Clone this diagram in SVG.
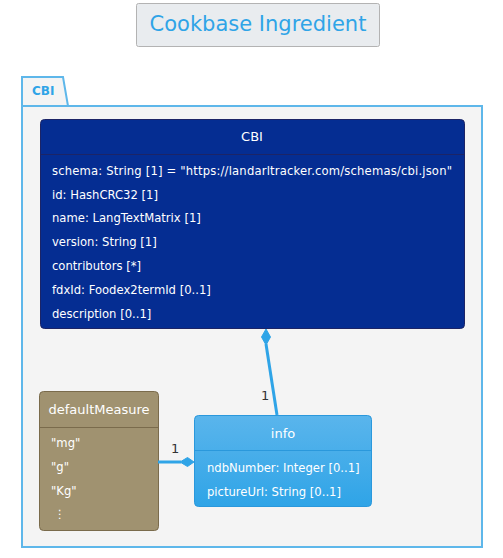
<svg xmlns="http://www.w3.org/2000/svg" width="503" height="558" viewBox="0 0 503 558">
<defs>
<linearGradient id="infoGrad" x1="0" y1="0" x2="0" y2="1">
<stop offset="0" stop-color="#5ab5ec"/>
<stop offset="1" stop-color="#2fa4e7"/>
</linearGradient>
<style>
text{font-family:"DejaVu Sans","Liberation Sans",sans-serif;}
.attr{font-size:11.6px;fill:#ffffff;}
.hdr{font-size:13px;fill:#ffffff;text-anchor:middle;}
.conn{stroke:#2fa4e7;stroke-width:3;fill:none;}
.dia{fill:#2fa4e7;stroke:#2fa4e7;stroke-width:1;}
.mult{font-size:13px;fill:#333333;}
</style>
</defs>
<rect width="503" height="558" fill="#ffffff"/>
<g id="title">
<rect x="136.5" y="3.5" width="243" height="43" rx="2" fill="#e9ecef" stroke="#b3b3b3"/>
<text x="258" y="31" font-size="21" fill="#2fa4e7" text-anchor="middle">Cookbase Ingredient</text>
</g>
<g id="package-CBI">
<path d="M22,106 L22,77 L63,77 L68,106" fill="#f4f4f4" stroke="#5eb7ea" stroke-width="2"/>
<rect x="22" y="106" width="460" height="441" fill="#f4f4f4" stroke="#5eb7ea" stroke-width="2"/>
<text x="32" y="95" font-size="12" font-weight="bold" fill="#2fa4e7">CBI</text>
</g>
<g id="class-CBI">
<rect x="40.5" y="119.5" width="424" height="209" rx="4" fill="#052d92" stroke="#1c2466"/>
<line x1="40.5" y1="154.5" x2="464.5" y2="154.5" stroke="#1c2466"/>
<text class="hdr" x="252" y="141">CBI</text>
<text class="attr" x="52" y="175" textLength="400" lengthAdjust="spacing">schema: String [1] = "https://landarltracker.com/schemas/cbi.json"</text>
<text class="attr" x="52" y="199">id: HashCRC32 [1]</text>
<text class="attr" x="52" y="222">name: LangTextMatrix [1]</text>
<text class="attr" x="52" y="246">version: String [1]</text>
<text class="attr" x="52" y="270">contributors [*]</text>
<text class="attr" x="52" y="294">fdxId: Foodex2termId [0..1]</text>
<text class="attr" x="52" y="318">description [0..1]</text>
</g>
<g id="class-defaultMeasure">
<rect x="39.5" y="391.5" width="119" height="139" rx="4" fill="#a09270" stroke="#7a6b4c"/>
<line x1="39.5" y1="427.5" x2="158.5" y2="427.5" stroke="#7a6b4c"/>
<text class="hdr" x="99" y="414">defaultMeasure</text>
<text class="attr" x="51" y="447">"mg"</text>
<text class="attr" x="51" y="471">"g"</text>
<text class="attr" x="51" y="495">"Kg"</text>
<text class="attr" x="54" y="518">⋮</text>
</g>
<g id="class-info">
<rect x="194.5" y="415.5" width="177" height="91" rx="4" fill="url(#infoGrad)" stroke="#2a98dc"/>
<line x1="194.5" y1="450.5" x2="371.5" y2="450.5" stroke="#2a98dc"/>
<text class="hdr" x="283" y="438">info</text>
<text class="attr" x="207" y="472">ndbNumber: Integer [0..1]</text>
<text class="attr" x="207" y="496">pictureUrl: String [0..1]</text>
</g>
<g id="connectors">
<line class="conn" x1="266" y1="344" x2="277" y2="415"/>
<polygon class="dia" points="266,329 270.5,337 266,345 261.5,337"/>
<text class="mult" x="261" y="400">1</text>
<line class="conn" x1="158" y1="462" x2="181" y2="462"/>
<polygon class="dia" points="194,462 187.5,457.5 180,462 187.5,466.5"/>
<text class="mult" x="171" y="453">1</text>
</g>
</svg>
